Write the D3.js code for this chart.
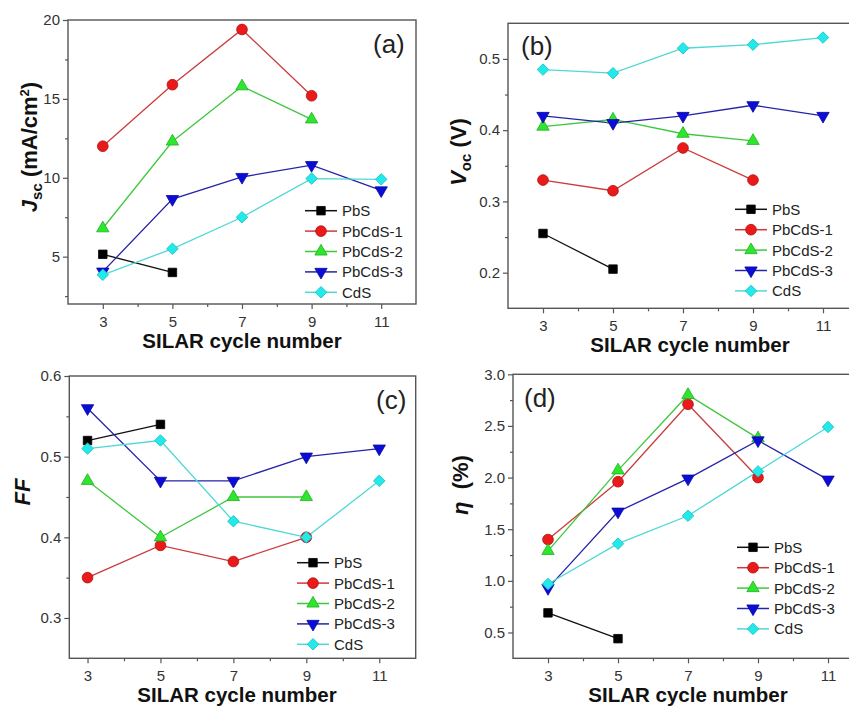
<!DOCTYPE html>
<html><head><meta charset="utf-8">
<script src="https://cdn.jsdelivr.net/npm/d3@7/dist/d3.min.js"></script>
<style>
html,body{margin:0;padding:0;background:#fff;}
text{font-family:Arial,"Liberation Sans",sans-serif;}
</style></head>
<body><svg id="chart" width="849" height="706"></svg>
<script>
// ---------------- data ----------------
const cycles = [3, 5, 7, 9, 11];
const seriesNames = ["PbS", "PbCdS-1", "PbCdS-2", "PbCdS-3", "CdS"];
const xTicks = [3, 5, 7, 9, 11];
const xMinorTicks = [4, 6, 8, 10];

// (a) Jsc (mA/cm2)
const jscPbS    = [5.15, 4.0];
const jscPbCdS1 = [12.0, 15.9, 19.4, 15.2];
const jscPbCdS2 = [6.8, 12.3, 15.8, 13.7];
const jscPbCdS3 = [4.05, 8.65, 10.05, 10.8, 9.2];
const jscCdS    = [3.85, 5.5, 7.5, 9.95, 9.9];
const jscTicks = [5, 10, 15, 20];
const jscMinor = [2.5, 7.5, 12.5, 17.5];

// (b) Voc (V)
const vocPbS    = [0.255, 0.205];
const vocPbCdS1 = [0.33, 0.315, 0.375, 0.33];
const vocPbCdS2 = [0.405, 0.415, 0.395, 0.385];
const vocPbCdS3 = [0.42, 0.41, 0.42, 0.435, 0.42];
const vocCdS    = [0.485, 0.48, 0.515, 0.52, 0.53];
const vocTicks = [0.2, 0.3, 0.4, 0.5];
const vocMinor = [0.25, 0.35, 0.45];

// (c) FF
const ffPbS    = [0.52, 0.54];
const ffPbCdS1 = [0.35, 0.39, 0.37, 0.40];
const ffPbCdS2 = [0.47, 0.40, 0.45, 0.45];
const ffPbCdS3 = [0.56, 0.47, 0.47, 0.50, 0.51];
const ffCdS    = [0.51, 0.52, 0.42, 0.40, 0.47];
const ffTicks = [0.3, 0.4, 0.5, 0.6];
const ffMinor = [0.35, 0.45, 0.55];

// (d) eta (%)
const etaPbS    = [0.69, 0.44];
const etaPbCdS1 = [1.40, 1.96, 2.71, 2.00];
const etaPbCdS2 = [1.29, 2.07, 2.80, 2.38];
const etaPbCdS3 = [0.93, 1.67, 1.99, 2.36, 1.98];
const etaCdS    = [0.97, 1.36, 1.63, 2.06, 2.49];
const etaTicks = [0.5, 1.0, 1.5, 2.0, 2.5, 3.0];
const etaMinor = [0.75, 1.25, 1.75, 2.25, 2.75];

// ---------------- styles ----------------
const lineColors   = ["#111111", "#cc3b3b", "#3fc83f", "#2424a8", "#4ed8d8"];
const markerColors = ["#000000", "#ea1a1a", "#2ee62e", "#0c0cd8", "#22eaea"];
const markerEdges  = ["#000000", "#b01010", "#20b020", "#0a0aa0", "#18c0c0"];
const markerTypes  = ["square", "circle", "up", "down", "diamond"];

const FONT = 'Arial,"Liberation Sans",sans-serif';
const svg = d3.select("#chart");
svg.append("rect").attr("width", 849).attr("height", 706).attr("fill", "#fff");

const panels = [
  { series: [jscPbS, jscPbCdS1, jscPbCdS2, jscPbCdS3, jscCdS],
    xr: [68, 416], yr: [304, 20], xd: [2, 12], yd: [2, 20],
    yt: jscTicks, ym: jscMinor, fmt: d3.format("d"),
    tag: "(a)", tagX: 373, tagY: 53,
    legX: 305, legY: 210.7,
    ylab: {x: 37, y: 147, parts: [["J", 22, 0, true], ["sc", 15, 5, false], [" (mA/cm", 22, -5, false], ["2", 13, -8, false], [")", 22, 8, false]]},
    xlabX: 242, xlabY: 348 },
  { series: [vocPbS, vocPbCdS1, vocPbCdS2, vocPbCdS3, vocCdS],
    xr: [508, 858], yr: [308.3, 23.3], xd: [2, 12], yd: [0.15, 0.55],
    yt: vocTicks, ym: vocMinor, fmt: d3.format(".1f"),
    tag: "(b)", tagX: 521, tagY: 55,
    legX: 735, legY: 209.3,
    ylab: {x: 466, y: 152, parts: [["V", 22, 0, true], ["oc", 15, 5, false], [" (V)", 22, -5, false]]},
    xlabX: 690, xlabY: 352 },
  { series: [ffPbS, ffPbCdS1, ffPbCdS2, ffPbCdS3, ffCdS],
    xr: [69.3, 415.7], yr: [658.3, 376], xd: [2.5, 12], yd: [0.25, 0.6],
    yt: ffTicks, ym: ffMinor, fmt: d3.format(".1f"),
    tag: "(c)", tagX: 376, tagY: 409,
    legX: 297, legY: 562.7,
    ylab: {x: 30, y: 492, parts: [["FF", 22, 0, true]]},
    xlabX: 237, xlabY: 702 },
  { series: [etaPbS, etaPbCdS1, etaPbCdS2, etaPbCdS3, etaCdS],
    xr: [513, 863], yr: [658.3, 374.3], xd: [2, 12], yd: [0.25, 3.0],
    yt: etaTicks, ym: etaMinor, fmt: d3.format(".1f"),
    tag: "(d)", tagX: 524, tagY: 407,
    legX: 737, legY: 547.3,
    ylab: {x: 468, y: 485, parts: [["\u03b7", 22, 0, true], ["\u00a0\u00a0(%)", 22, 0, false]]},
    xlabX: 688, xlabY: 702 }
];

function drawMarker(g, type, cx, cy, i) {
  let sym, size, rot = 0;
  if (type === "square") { sym = d3.symbolSquare; size = 72; }
  else if (type === "circle") { sym = d3.symbolCircle; size = 90; }
  else if (type === "up") { sym = d3.symbolTriangle; size = 66; }
  else if (type === "down") { sym = d3.symbolTriangle; size = 66; rot = 180; }
  else { sym = d3.symbolSquare; size = 66; rot = 45; }
  g.append("path")
    .attr("d", d3.symbol().type(sym).size(size)())
    .attr("transform", `translate(${cx},${cy}) rotate(${rot})`)
    .attr("fill", markerColors[i])
    .attr("stroke", markerEdges[i])
    .attr("stroke-width", 0.8);
}

panels.forEach(p => {
  const x = d3.scaleLinear().domain(p.xd).range(p.xr);
  const y = d3.scaleLinear().domain(p.yd).range(p.yr);
  const g = svg.append("g");

  // axes
  const axisColor = "#555";
  const xAxis = g.append("g").attr("transform", `translate(0,${p.yr[0]})`)
    .call(d3.axisBottom(x).tickValues(xTicks).tickSize(5).tickSizeOuter(0).tickPadding(7).tickFormat(d3.format("d")));
  const xMin = g.append("g").attr("transform", `translate(0,${p.yr[0]})`)
    .call(d3.axisBottom(x).tickValues(xMinorTicks).tickSize(3).tickSizeOuter(0).tickFormat(""));
  const yAxis = g.append("g").attr("transform", `translate(${p.xr[0]},0)`)
    .call(d3.axisLeft(y).tickValues(p.yt).tickSize(5).tickSizeOuter(0).tickPadding(3).tickFormat(p.fmt));
  const yMin = g.append("g").attr("transform", `translate(${p.xr[0]},0)`)
    .call(d3.axisLeft(y).tickValues(p.ym).tickSize(3).tickSizeOuter(0).tickFormat(""));
  [xAxis, xMin, yAxis, yMin].forEach(a => {
    a.select(".domain").remove();
    a.selectAll("line").attr("stroke", axisColor).attr("stroke-width", 1.2);
    a.selectAll("text").attr("fill", "#333").attr("font-size", 15).attr("font-family", FONT);
  });
  // frame
  g.append("rect")
    .attr("x", p.xr[0]).attr("y", p.yr[1])
    .attr("width", p.xr[1] - p.xr[0]).attr("height", p.yr[0] - p.yr[1])
    .attr("fill", "none").attr("stroke", axisColor).attr("stroke-width", 1.4);

  // series
  const line = d3.line().x((d, k) => x(cycles[k])).y(d => y(d));
  p.series.forEach((vals, i) => {
    g.append("path").attr("d", line(vals))
      .attr("fill", "none").attr("stroke", lineColors[i]).attr("stroke-width", 1.3);
  });
  p.series.forEach((vals, i) => {
    vals.forEach((v, k) => drawMarker(g, markerTypes[i], x(cycles[k]), y(v), i));
  });

  // legend
  seriesNames.forEach((name, i) => {
    const ly = p.legY + i * 20.4;
    g.append("line").attr("x1", p.legX).attr("x2", p.legX + 32).attr("y1", ly).attr("y2", ly)
      .attr("stroke", lineColors[i]).attr("stroke-width", 1.5);
    drawMarker(g, markerTypes[i], p.legX + 16, ly, i);
    g.append("text").attr("x", p.legX + 37).attr("y", ly + 5.5)
      .attr("font-size", 15).attr("fill", "#222").attr("font-family", FONT).text(name);
  });

  // panel tag
  g.append("text").attr("x", p.tagX).attr("y", p.tagY)
    .attr("font-size", 26).attr("fill", "#222").attr("font-family", FONT).text(p.tag);

  // x label
  g.append("text").attr("x", p.xlabX).attr("y", p.xlabY)
    .attr("text-anchor", "middle").attr("font-size", 20.5).attr("font-weight", "bold")
    .attr("fill", "#111").attr("font-family", FONT).text("SILAR cycle number");

  // y label
  const t = g.append("text")
    .attr("transform", `translate(${p.ylab.x},${p.ylab.y}) rotate(-90)`)
    .attr("text-anchor", "middle").attr("font-weight", "bold").attr("fill", "#111")
    .attr("font-family", FONT);
  p.ylab.parts.forEach(([s, fs, dy, it]) => {
    t.append("tspan").attr("font-size", fs).attr("dy", dy)
      .attr("font-style", it ? "italic" : "normal").text(s);
  });
});
</script></body></html>
